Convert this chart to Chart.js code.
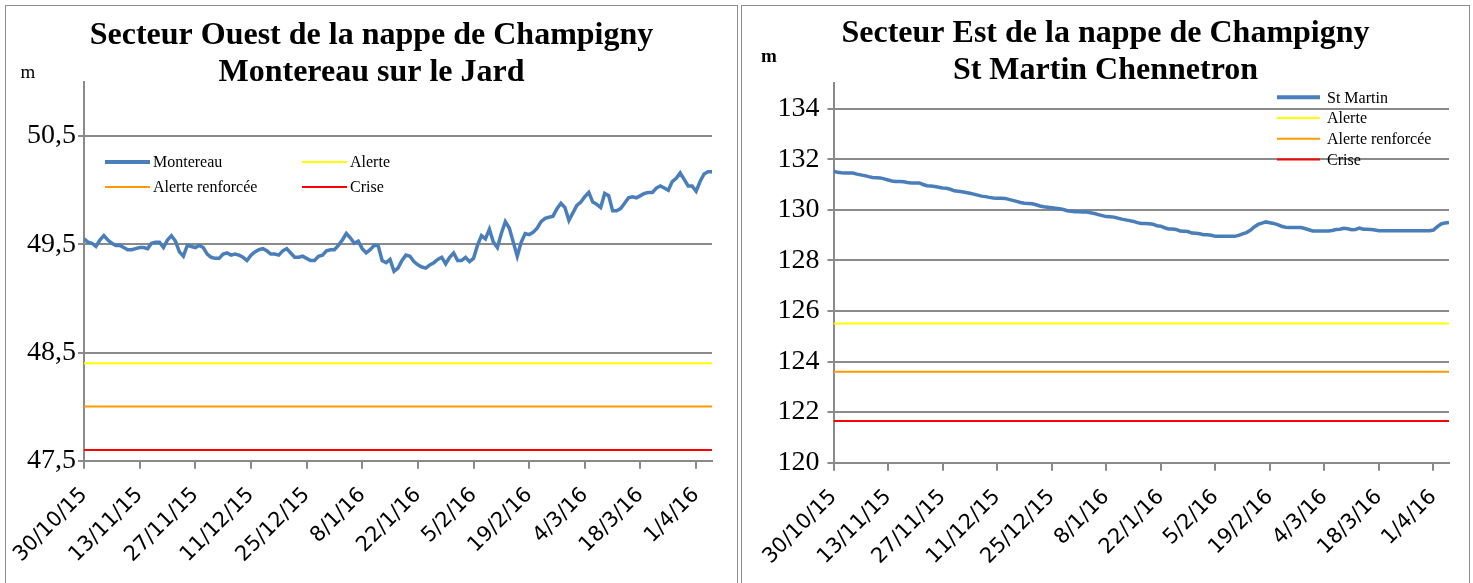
<!DOCTYPE html>
<html lang="fr">
<head>
<meta charset="utf-8">
<title>Nappe de Champigny</title>
<script src="https://cdn.jsdelivr.net/npm/chart.js@4.4.1/dist/chart.umd.min.js"></script>
<style>
  html, body { margin: 0; padding: 0; background: #fff; overflow: hidden; }
  body { width: 1473px; height: 583px; position: relative; }
  .panel { position: absolute; top: 5px; height: 600px; border: 1px solid #8c8c8c; }
  #panelOuest { left: 5px; width: 731px; }
  #panelEst { left: 741px; width: 727px; }
  canvas { display: block; }
</style>
</head>
<body>
<div class="panel" id="panelOuest"><canvas id="chartOuest" width="731" height="577"></canvas></div>
<div class="panel" id="panelEst"><canvas id="chartEst" width="727" height="577"></canvas></div>
<script>
// daily readings, 30/10/15 -> 5/4/16 (one value per day)
const dateTicks = ['30/10/15', '13/11/15', '27/11/15', '11/12/15', '25/12/15', '8/1/16',
                   '22/1/16', '5/2/16', '19/2/16', '4/3/16', '18/3/16', '1/4/16'];
const TICK_STEP_DAYS = 14;

const montereau = [
  49.55, 49.52, 49.51, 49.48, 49.54, 49.58, 49.54, 49.51, 49.49, 49.49,
  49.47, 49.45, 49.45, 49.46, 49.47, 49.47, 49.46, 49.51, 49.52, 49.52,
  49.47, 49.54, 49.58, 49.53, 49.43, 49.39, 49.49, 49.48, 49.47, 49.49,
  49.47, 49.41, 49.38, 49.37, 49.37, 49.41, 49.42, 49.40, 49.41, 49.40,
  49.38, 49.35, 49.40, 49.43, 49.45, 49.46, 49.44, 49.41, 49.41, 49.40,
  49.44, 49.46, 49.42, 49.38, 49.38, 49.39, 49.37, 49.35, 49.35, 49.39,
  49.40, 49.44, 49.45, 49.45, 49.49, 49.54, 49.60, 49.56, 49.51, 49.53,
  49.46, 49.42, 49.45, 49.49, 49.49, 49.35, 49.33, 49.36, 49.25, 49.28,
  49.35, 49.40, 49.39, 49.34, 49.31, 49.29, 49.28, 49.31, 49.33, 49.36,
  49.38, 49.32, 49.38, 49.42, 49.35, 49.35, 49.38, 49.34, 49.37, 49.49,
  49.58, 49.55, 49.64, 49.52, 49.47, 49.60, 49.71, 49.65, 49.52, 49.39,
  49.52, 49.60, 49.59, 49.61, 49.65, 49.71, 49.74, 49.75, 49.76, 49.83,
  49.88, 49.84, 49.72, 49.79, 49.86, 49.89, 49.94, 49.98, 49.89, 49.87,
  49.84, 49.97, 49.95, 49.81, 49.81, 49.83, 49.88, 49.93, 49.94, 49.93,
  49.95, 49.97, 49.98, 49.98, 50.02, 50.04, 50.02, 50.00, 50.08, 50.11,
  50.16, 50.10, 50.04, 50.04, 49.99, 50.08, 50.15, 50.17, 50.17
];

const stMartin = [
  131.53, 131.48, 131.46, 131.45, 131.45, 131.45, 131.41, 131.38, 131.35, 131.31,
  131.28, 131.27, 131.26, 131.22, 131.18, 131.14, 131.12, 131.12, 131.11, 131.08,
  131.06, 131.06, 131.06, 131.00, 130.95, 130.94, 130.92, 130.89, 130.86, 130.85,
  130.81, 130.75, 130.73, 130.71, 130.68, 130.65, 130.62, 130.58, 130.54, 130.52,
  130.49, 130.47, 130.46, 130.46, 130.45, 130.41, 130.37, 130.33, 130.29, 130.26,
  130.25, 130.24, 130.20, 130.15, 130.12, 130.10, 130.08, 130.06, 130.04, 130.01,
  129.96, 129.94, 129.92, 129.92, 129.91, 129.91, 129.88, 129.85, 129.81, 129.77,
  129.73, 129.72, 129.71, 129.67, 129.63, 129.60, 129.57, 129.54, 129.49, 129.46,
  129.46, 129.45, 129.43, 129.37, 129.35, 129.29, 129.24, 129.24, 129.22, 129.16,
  129.15, 129.14, 129.08, 129.07, 129.05, 129.01, 129.01, 128.99, 128.95, 128.95,
  128.95, 128.95, 128.95, 128.95, 128.99, 129.05, 129.10, 129.19, 129.32, 129.42,
  129.47, 129.52, 129.49, 129.46, 129.41, 129.35, 129.31, 129.30, 129.30, 129.30,
  129.30, 129.26, 129.21, 129.16, 129.16, 129.16, 129.16, 129.16, 129.18, 129.22,
  129.23, 129.27, 129.25, 129.21, 129.22, 129.28, 129.23, 129.23, 129.22, 129.20,
  129.17, 129.17, 129.17, 129.17, 129.17, 129.17, 129.17, 129.17, 129.17, 129.17,
  129.17, 129.17, 129.17, 129.17, 129.20, 129.33, 129.44, 129.48, 129.50
];

const thresholdNames = ['Alerte', 'Alerte renforcée', 'Crise'];
const thresholdsOuest = [48.4, 48.0, 47.6];
const thresholdsEst = [125.5, 123.6, 121.65];

const yTicksOuest = [47.5, 48.5, 49.5, 50.5];
const yTicksEst = [120, 122, 124, 126, 128, 130, 132, 134];

const SERIES_BLUE = '#4a7ebb';
const THRESHOLD_COLORS = ['#ffff00', '#ff9a00', '#ff0000'];
const GRID = '#8a8a8a';
const SERIF = '"Liberation Serif", "Times New Roman", serif';

// legend drawn the Excel way: fixed grid of short line samples
const excelLegend = {
  id: 'excelLegend',
  afterDatasetsDraw(chart, args, opts) {
    const { ctx, chartArea } = chart;
    ctx.save();
    ctx.font = '16px ' + SERIF;
    ctx.textBaseline = 'middle';
    ctx.fillStyle = '#000';
    chart.data.datasets.forEach((ds, i) => {
      const col = i % opts.cols;
      const row = Math.floor(i / opts.cols);
      const x = chartArea.left + opts.x + col * opts.colWidth;
      const y = chartArea.top + opts.y + row * opts.rowHeight;
      ctx.strokeStyle = ds.borderColor;
      ctx.lineWidth = i === 0 ? 4 : 2;
      ctx.beginPath();
      ctx.moveTo(x, y);
      ctx.lineTo(x + opts.sample, y);
      ctx.stroke();
      ctx.fillText(ds.label, x + opts.sample + opts.gap, y + 1);
    });
    ctx.restore();
  }
};

// the little "m" above the value axis
const unitLabel = {
  id: 'unitLabel',
  afterDraw(chart, args, opts) {
    const { ctx, chartArea } = chart;
    ctx.save();
    ctx.font = (opts.bold ? 'bold ' : '') + '19px ' + SERIF;
    ctx.textAlign = 'center';
    ctx.textBaseline = 'middle';
    ctx.fillStyle = '#000';
    ctx.fillText(opts.text, chartArea.left + opts.dx, chartArea.top + opts.dy);
    ctx.restore();
  }
};

function buildDatasets(name, values, thresholds) {
  const last = values.length - 1;
  const sets = [{
    label: name,
    data: values.map((v, i) => ({ x: i, y: v })),
    yAxisID: 'y',
    borderColor: SERIES_BLUE,
    borderWidth: 3.5,
    pointRadius: 0,
    tension: 0
  }];
  thresholds.forEach((t, k) => {
    sets.push({
      label: thresholdNames[k],
      data: [{ x: 0, y: t }, { x: last, y: t }],
      yAxisID: 'y',
      borderColor: THRESHOLD_COLORS[k],
      borderWidth: 2,
      pointRadius: 0
    });
  });
  return sets;
}

function renderPanel(canvasId, cfg) {
  const last = cfg.values.length - 1;
  return new Chart(document.getElementById(canvasId).getContext('2d'), {
    type: 'line',
    data: { datasets: buildDatasets(cfg.name, cfg.values, cfg.thresholds) },
    plugins: [excelLegend, unitLabel],
    options: {
      responsive: false,
      animation: false,
      events: [],
      layout: { padding: 0 },
      plugins: {
        legend: { display: false },
        tooltip: { enabled: false },
        title: {
          display: true,
          text: cfg.title,
          color: '#000',
          font: { family: SERIF, size: 32, weight: 'bold', lineHeight: 1.169 },
          padding: { top: cfg.titleTop, bottom: cfg.titleBottom }
        },
        excelLegend: cfg.legend,
        unitLabel: cfg.unit
      },
      scales: {
        x: {
          type: 'linear',
          min: 0,
          max: last,
          afterFit: s => { s.height = cfg.xHeight; s.paddingLeft = 0; s.paddingRight = 0; },
          afterBuildTicks: s => {
            s.ticks = dateTicks.map((_, i) => ({ value: i * TICK_STEP_DAYS }));
          },
          ticks: {
            autoSkip: false,
            minRotation: 45,
            maxRotation: 45,
            padding: 14,
            color: '#000',
            font: { family: 'DejaVu Sans', size: 21 },
            callback: (v, i) => dateTicks[i]
          },
          grid: { drawOnChartArea: false, drawTicks: true, tickLength: 8, color: GRID, lineWidth: 2 },
          border: { display: true, color: GRID, width: 2 }
        },
        y: {
          min: cfg.yMin,
          max: cfg.yMax,
          afterFit: s => { s.width = cfg.yWidth; },
          afterBuildTicks: s => { s.ticks = cfg.yTicks.map(v => ({ value: v })); },
          ticks: {
            color: '#000',
            padding: cfg.yPad,
            font: { family: SERIF, size: 28 },
            callback: v => String(v).replace('.', ',')
          },
          grid: { color: GRID, lineWidth: 2, tickLength: 6 },
          border: { display: true, color: GRID, width: 2 }
        },
        // empty strip on the right so the title stays centred on the whole panel
        pad: {
          type: 'linear',
          axis: 'y',
          position: 'right',
          afterFit: s => { s.width = cfg.padRight; },
          ticks: { display: false },
          grid: { display: false },
          border: { display: false }
        }
      }
    }
  });
}

renderPanel('chartOuest', {
  name: 'Montereau',
  values: montereau,
  thresholds: thresholdsOuest,
  title: ['Secteur Ouest de la nappe de Champigny', 'Montereau sur le Jard'],
  titleTop: 11,
  titleBottom: -9.8,
  yMin: 47.5,
  yMax: 51,
  yTicks: yTicksOuest,
  yWidth: 78,
  yPad: 2,
  xHeight: 122.3,
  padRight: 25,
  legend: { x: 21, y: 80, cols: 2, colWidth: 197, rowHeight: 25, sample: 45, gap: 3 },
  unit: { text: 'm', dx: -56, dy: -9, bold: false }
});

renderPanel('chartEst', {
  name: 'St Martin',
  values: stMartin,
  thresholds: thresholdsEst,
  title: ['Secteur Est de la nappe de Champigny', 'St Martin Chennetron'],
  titleTop: 8.6,
  titleBottom: -6.1,
  yMin: 120,
  yMax: 135,
  yTicks: yTicksEst,
  yWidth: 91.5,
  yPad: 8,
  xHeight: 120.3,
  padRight: 20,
  legend: { x: 443.5, y: 14, cols: 1, colWidth: 0, rowHeight: 20.7, sample: 43, gap: 7 },
  unit: { text: 'm', dx: -64.5, dy: -26.3, bold: true }
});
</script>
</body>
</html>
